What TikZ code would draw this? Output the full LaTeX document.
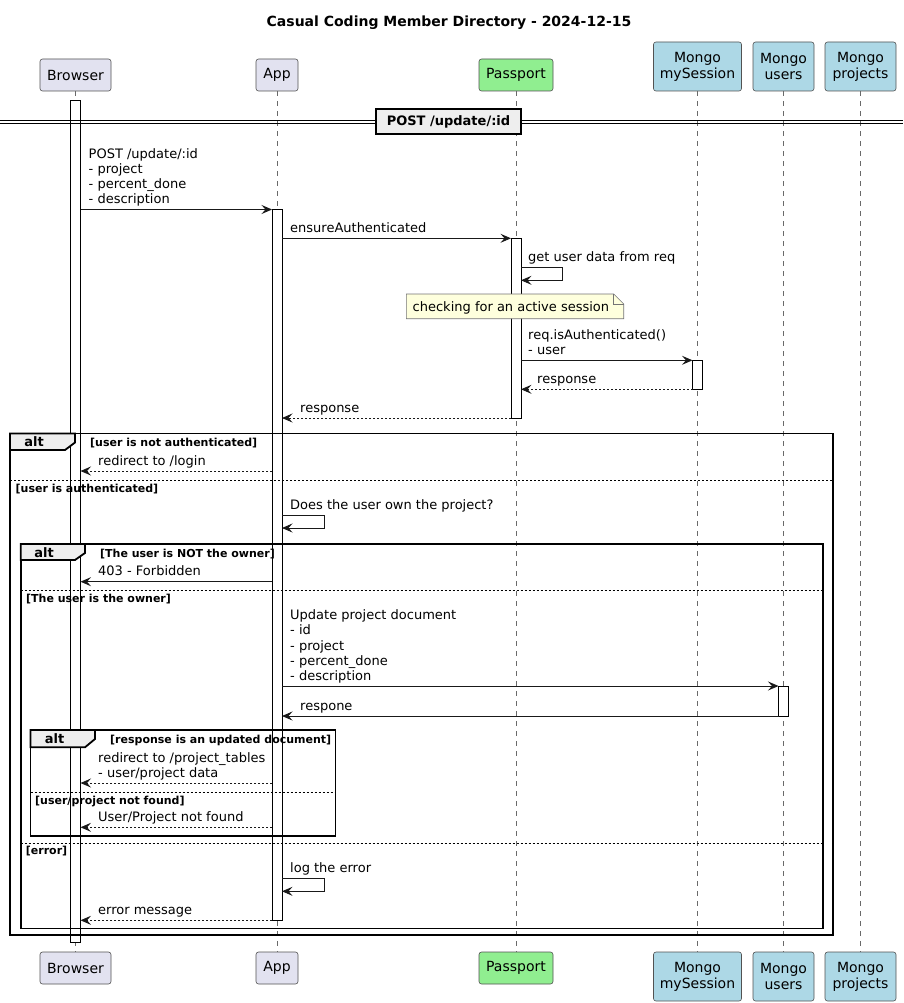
\documentclass[tikz,border=0pt]{standalone}
\usepackage{fontspec}
\setmainfont{DejaVu Sans}
\usetikzlibrary{arrows.meta}
\definecolor{partlav}{HTML}{E2E2F0}
\definecolor{partgreen}{HTML}{90EE90}
\definecolor{partblue}{HTML}{ADD8E6}
\definecolor{notefill}{HTML}{FEFFDD}
\definecolor{tabfill}{HTML}{EEEEEE}
\definecolor{edge}{HTML}{181818}
\tikzset{
 part/.style={draw=edge!75, line width=0.6pt, rounded corners=2.5pt, inner sep=0pt, align=center, font=\fontsize{14}{16}\selectfont, text=black},
 lifeline/.style={draw=edge!65, line width=0.5pt, dash pattern=on 5pt off 5pt},
 actbar/.style={draw=black, fill=white, line width=0.9pt},
 msgarrow/.style={draw=black!90, line width=0.9pt, -{Stealth[length=10.5pt,width=9pt,inset=4pt]}},
 retarrow/.style={msgarrow, dash pattern=on 2pt off 2pt},
 msg/.style={font=\fontsize{13}{15.1}\selectfont, inner sep=0pt, anchor=south west, align=left, execute at end node=\strut},
 frameline/.style={draw=black, line width=1.8pt},
 sepline/.style={draw=black, line width=0.8pt, dash pattern=on 2pt off 2pt},
 cond/.style={font=\bfseries\fontsize{11}{13}\selectfont, inner sep=0pt, anchor=base west},
 tablabel/.style={font=\bfseries\fontsize{13}{15}\selectfont, inner sep=0pt, anchor=base},
 titletext/.style={font=\bfseries\fontsize{14}{16}\selectfont, inner sep=0pt, anchor=base},
 notebox/.style={draw=edge!60, fill=notefill, line width=0.6pt},
}
\begin{document}
\begin{tikzpicture}[x=1pt,y=-1pt]
\useasboundingbox (0,0) rectangle (903,1003);
\node[titletext] (title) at (449,27) {Casual Coding Member Directory - 2024-12-15};

% participants (top)
\node[part, fill=partlav, minimum width=71pt, minimum height=32pt] (bT) at (75.5,75) {Browser};
\node[part, fill=partlav, minimum width=42pt, minimum height=32pt] (aT) at (277,75) {App};
\node[part, fill=partgreen, minimum width=74pt, minimum height=32pt] (pT) at (516,75) {Passport};
\node[part, fill=partblue, minimum width=88pt, minimum height=49pt] (sT) at (697.5,66.5) {Mongo\\mySession};
\node[part, fill=partblue, minimum width=61pt, minimum height=49pt] (uT) at (783.5,66.5) {Mongo\\users};
\node[part, fill=partblue, minimum width=71pt, minimum height=49pt] (rT) at (860.5,66.5) {Mongo\\projects};
% participants (bottom)
\node[part, fill=partlav, minimum width=71pt, minimum height=32pt] (bB) at (75.5,968) {Browser};
\node[part, fill=partlav, minimum width=42pt, minimum height=32pt] (aB) at (277,968) {App};
\node[part, fill=partgreen, minimum width=74pt, minimum height=32pt] (pB) at (516,968) {Passport};
\node[part, fill=partblue, minimum width=88pt, minimum height=49pt] (sB) at (697.5,976.5) {Mongo\\mySession};
\node[part, fill=partblue, minimum width=61pt, minimum height=49pt] (uB) at (783.5,976.5) {Mongo\\users};
\node[part, fill=partblue, minimum width=71pt, minimum height=49pt] (rB) at (860.5,976.5) {Mongo\\projects};

% lifelines
\draw[lifeline] (bT.south) -- (bB.north);
\draw[lifeline] (aT.south) -- (aB.north);
\draw[lifeline] (pT.south) -- (pB.north);
\draw[lifeline] (sT.south) -- (sB.north);
\draw[lifeline] (uT.south) -- (uB.north);
\draw[lifeline] (rT.south) -- (rB.north);

% activation bars
\draw[actbar] (70.5,100) rectangle (80.5,942.3);
\draw[actbar] (272,209.5) rectangle (282,920.3);
\draw[actbar] (511,238.3) rectangle (521,418);
\draw[actbar] (692.5,360.3) rectangle (702.5,389.3);
\draw[actbar] (778.5,686) rectangle (788.5,716);

% divider
\draw[black, line width=0.9pt] (0,120) -- (903,120);
\draw[black, line width=0.9pt] (0,123.5) -- (903,123.5);
\node[draw=black, line width=1.5pt, fill=tabfill, minimum width=145pt, minimum height=25pt, inner sep=0pt, font=\bfseries\fontsize{13}{15}\selectfont] (div) at (448.5,121.5) {POST /update/:id};

% message 1
\draw[msgarrow] (80.5,209.5) -- (272,209.5);
\node[msg] (m1) at (88.5,208.5) {POST /update/:id\\- project\\- percent\_done\\- description};
% message 2
\draw[msgarrow] (282,238.3) -- (511,238.3);
\node[msg] (m2) at (290,237.3) {ensureAuthenticated};
% self passport
\draw[msgarrow] (521,267.7) -- (562.7,267.7) -- (562.7,280.3) -- (521,280.3);
\node[msg] (m3) at (528,266.7) {get user data from req};
% note
\draw[notebox] (406.3,294) -- (613.7,294) -- (623.7,304) -- (623.7,318.7) -- (406.3,318.7) -- cycle;
\draw[notebox, fill=none] (613.7,294) -- (613.7,304) -- (623.7,304);
\node[font=\fontsize{13}{15}\selectfont, inner sep=0pt, anchor=base west] (note) at (412.5,311) {checking for an active session};
% isAuthenticated
\draw[msgarrow] (521,360.3) -- (692.5,360.3);
\node[msg] (m5) at (528,359.3) {req.isAuthenticated()\\- user};
\draw[retarrow] (692.5,389.3) -- (521,389.3);
\node[msg] (m6) at (537,388.3) {response};
\draw[retarrow] (511,418) -- (282,418);
\node[msg] (m7) at (300,417) {response};

% outer alt frame
\draw[frameline] (10,433.5) rectangle (833,935);
\draw[frameline, fill=tabfill] (10,433.5) -- (75,433.5) -- (75,442.5) -- (65,450) -- (10,450) -- cycle;
\node[tablabel] (alt1) at (34,446.5) {alt};
\node[cond] (c1) at (90,446.5) {[user is not authenticated]};
\draw[retarrow] (272,471) -- (80.5,471);
\node[msg] (m8) at (98,470) {redirect to /login};
\draw[sepline] (10,480.7) -- (833,480.7);
\node[cond] (c2) at (15.5,492.5) {[user is authenticated]};
\draw[msgarrow] (282,515.7) -- (324.3,515.7) -- (324.3,528) -- (282,528);
\node[msg] (m9) at (290,514.7) {Does the user own the project?};

% inner alt frame
\draw[frameline] (20.7,544) rectangle (823,928.5);
\draw[frameline, fill=tabfill] (20.7,544) -- (85,544) -- (85,553) -- (75,560) -- (20.7,560) -- cycle;
\node[tablabel] (alt2) at (44,557) {alt};
\node[cond] (c3) at (100,557) {[The user is NOT the owner]};
\draw[msgarrow] (272,581.7) -- (80.5,581.7);
\node[msg] (m10) at (98,580.7) {403 - Forbidden};
\draw[sepline] (20.7,590) -- (823,590);
\node[cond] (c4) at (26,602) {[The user is the owner]};
\draw[msgarrow] (282,686) -- (778.5,686);
\node[msg] (m11) at (290,685) {Update project document\\- id\\- project\\- percent\_done\\- description};
\draw[msgarrow] (778.5,716) -- (282,716);
\node[msg] (m12) at (300,715) {respone};

% innermost alt frame
\draw[frameline] (30.5,730) rectangle (335.5,835.7);
\draw[frameline, fill=tabfill] (30.5,730) -- (95,730) -- (95,739) -- (85,747.3) -- (30.5,747.3) -- cycle;
\node[tablabel] (alt3) at (54.5,743.5) {alt};
\node[cond] (c5) at (110,743.5) {[response is an updated document]};
\draw[retarrow] (272,783) -- (80.5,783);
\node[msg] (m13) at (98,782) {redirect to /project\_tables\\- user/project data};
\draw[sepline] (30.5,792) -- (335.5,792);
\node[cond] (c6) at (35,804) {[user/project not found]};
\draw[retarrow] (272,827.3) -- (80.5,827.3);
\node[msg] (m14) at (98,826.3) {User/Project not found};

\draw[sepline] (20.7,843.3) -- (823,843.3);
\node[cond] (c7) at (25.7,854) {[error]};
\draw[msgarrow] (282,878.7) -- (324.3,878.7) -- (324.3,891.3) -- (282,891.3);
\node[msg] (m15) at (290,877.7) {log the error};
\draw[retarrow] (272,920.3) -- (80.5,920.3);
\node[msg] (m16) at (98,919.3) {error message};
\end{tikzpicture}
\end{document}
